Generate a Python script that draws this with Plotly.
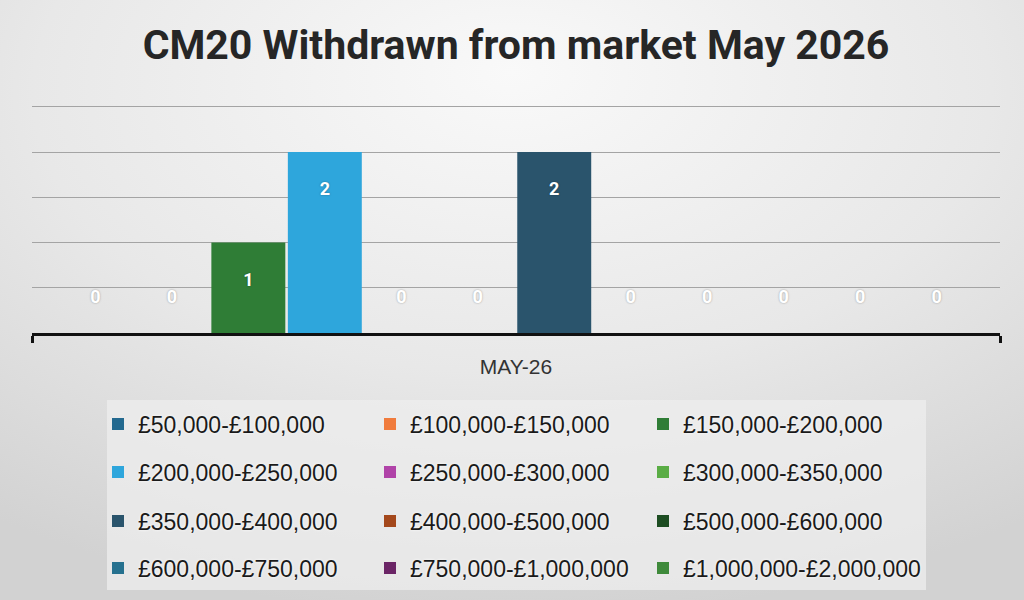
import base64
import plotly.graph_objects as go

# ---- data ----
title_text = "CM20 Withdrawn from market May 2026"
categories = ["MAY-26"]
bands = [
    "£50,000-£100,000", "£100,000-£150,000", "£150,000-£200,000",
    "£200,000-£250,000", "£250,000-£300,000", "£300,000-£350,000",
    "£350,000-£400,000", "£400,000-£500,000", "£500,000-£600,000",
    "£600,000-£750,000", "£750,000-£1,000,000", "£1,000,000-£2,000,000",
]
counts = [0, 0, 1, 2, 0, 0, 2, 0, 0, 0, 0, 0]
colors = [
    "#23698f", "#f07b3c", "#2f7d36",
    "#2ea6dc", "#b043a8", "#5aad45",
    "#2a546c", "#a4481c", "#1d4d22",
    "#26718f", "#6b2566", "#3f8a3b",
]

W, H = 1024, 600
ML, MR, MT, MB = 32, 24, 105, 267
PW, PH = W - ML - MR, H - MT - MB

# background (gradient + legend panel) as an SVG image
svg = f"""<svg xmlns='http://www.w3.org/2000/svg' width='{W}' height='{H}' viewBox='0 0 {W} {H}'>
<defs><radialGradient id='g' cx='50%' cy='18%' r='85%' fx='50%' fy='12%'>
<stop offset='0' stop-color='#f9f9f9'/><stop offset='0.55' stop-color='#e8e8e8'/>
<stop offset='1' stop-color='#d2d2d2'/></radialGradient></defs>
<rect width='{W}' height='{H}' fill='url(#g)'/>
<rect x='107' y='400' width='819' height='190' fill='#eeeeee' fill-opacity='0.75'/>
</svg>"""
src = "data:image/svg+xml;base64," + base64.b64encode(svg.encode()).decode()

label_font = dict(color="white", size=18, family="Roboto", weight="bold",
                  shadow="0px 0px 2px rgba(0,0,0,0.35)")

fig = go.Figure()
legend_ids = ["legend" if i == 0 else f"legend{i + 1}" for i in range(len(bands))]
for i, (name, val, col) in enumerate(zip(bands, counts, colors)):
    inside = val > 0
    fig.add_trace(go.Bar(
        x=categories, y=[val], name=name,
        marker=dict(color=col, line=dict(width=0)),
        text=[f"\u00a0<br>{val}" if inside else f"{val}<br>\u00a0"],
        textposition="inside" if inside else "outside",
        insidetextanchor="end",
        textfont=label_font, outsidetextfont=label_font, insidetextfont=label_font,
        cliponaxis=False,
        legend=legend_ids[i],
        hoverinfo="skip",
    ))

row_y = [424, 472, 521, 568]
col_x = [98, 370, 643]
legend_cfg = {}
for i, lid in enumerate(legend_ids):
    r, c = divmod(i, 3)
    legend_cfg[lid] = dict(
        orientation="h", xref="container", yref="container",
        x=col_x[c] / W, y=1 - row_y[r] / H, xanchor="left", yanchor="middle",
        font=dict(family="Liberation Sans", size=23, color="#1a1a1a",
                  shadow="0px 0px 3px white"),
        bgcolor="rgba(0,0,0,0)",
    )

fig.update_layout(
    width=W, height=H,
    margin=dict(l=ML, r=MR, t=MT, b=MB, autoexpand=False),
    paper_bgcolor="#e6e6e6", plot_bgcolor="rgba(0,0,0,0)",
    images=[dict(source=src, xref="paper", yref="paper",
                 x=-ML / PW, y=1 + MT / PH, sizex=W / PW, sizey=H / PH,
                 xanchor="left", yanchor="top", sizing="stretch", layer="below")],
    title=dict(text=title_text, x=0.5, xref="paper", xanchor="center",
               y=1 - 45 / H, yref="container", yanchor="middle",
               font=dict(family="Roboto", size=41, weight="bold", color="#262626")),
    barmode="group", bargap=0.052, bargroupgap=0.033,
    showlegend=True,
    **legend_cfg,
)
fig.update_xaxes(
    type="category", showline=True, linecolor="#111111", linewidth=3,
    ticks="outside", tickson="boundaries", ticklen=7, tickwidth=3, tickcolor="#111111",
    tickfont=dict(family="Liberation Sans", size=21, color="#333333"),
    ticklabelstandoff=13, showgrid=False, zeroline=False,
)
fig.update_yaxes(
    range=[0, 2.52], tick0=0, dtick=0.5, showticklabels=False, ticks="",
    showgrid=True, gridcolor="#a4a4a4", gridwidth=1, zeroline=False,
)

fig.write_html("out.html", config={"displayModeBar": False},
               post_script="document.body.style.margin='0';")
